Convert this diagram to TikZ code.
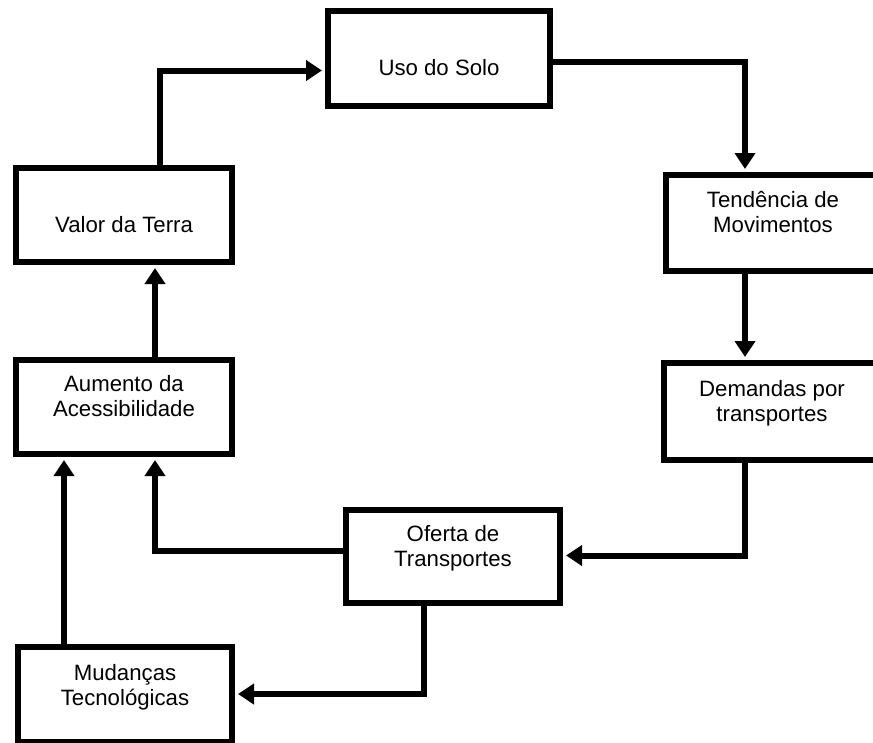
\documentclass[tikz,border=0pt]{standalone}
\usepackage{fontspec}
\setmainfont{Liberation Sans}
\usetikzlibrary{arrows.meta}
\begin{document}
\begin{tikzpicture}[x=1pt,y=-1pt,
  box/.style={draw, line width=6pt, rectangle, inner sep=0pt},
  lbl/.style={font=\fontsize{22.2}{25}\selectfont, align=center, anchor=base, inner sep=0pt},
  arr/.style={line width=6pt, -{Triangle[length=16pt,width=20pt]}, shorten >=3pt}]
\useasboundingbox (0,0) rectangle (873,742);
\clip (0,0) rectangle (873,742);
\fill[white] (0,0) rectangle (873,742);
% boxes
\node[box, minimum width=216pt, minimum height=94pt] (valor) at (124,215) {};
\node[box, minimum width=222pt, minimum height=95pt] (uso) at (439,58.5) {};
\node[box, minimum width=214pt, minimum height=96pt] (tend) at (773,223) {};
\node[box, minimum width=216pt, minimum height=97pt] (dem) at (772,411.5) {};
\node[box, minimum width=214pt, minimum height=93pt] (oferta) at (453,556.5) {};
\node[box, minimum width=216pt, minimum height=94pt] (aum) at (124,407) {};
\node[box, minimum width=214pt, minimum height=95pt] (mud) at (125,694.5) {};
% texts (base = baseline of the last line)
\node[lbl] (uso-t) at (439,75) {Uso do Solo};
\node[lbl] (valor-t) at (124,232) {Valor da Terra};
\node[lbl] (tend-t) at (773,232) {Tendência de\\Movimentos};
\node[lbl] (dem-t) at (772,421) {Demandas por\\transportes};
\node[lbl] (oferta-t) at (453,566) {Oferta de\\Transportes};
\node[lbl] (aum-t) at (124,416) {Aumento da\\Acessibilidade};
\node[lbl] (mud-t) at (125,705) {Mudanças\\Tecnológicas};
% connector bends
\coordinate (c1) at (160,70.5);
\coordinate (c2) at (745,62);
\coordinate (c3) at (745,555.5);
\coordinate (c4) at (155,550.5);
\coordinate (c5) at (424,694);
\coordinate (c6) at (64,0);
% connectors
\draw[arr] (valor.north -| c1) |- (uso.west |- c1);
\draw[arr] (uso.east |- c2) -| (tend.north -| c2);
\draw[arr] (tend.south -| c2) -- (dem.north -| c2);
\draw[arr] (dem.south -| c3) |- (oferta.east |- c3);
\draw[arr] (oferta.west |- c4) -| (aum.south -| c4);
\draw[arr] (aum.north -| c4) -- (valor.south -| c4);
\draw[arr] (oferta.south -| c5) |- (mud.east |- c5);
\draw[arr] (mud.north -| c6) -- (aum.south -| c6);
\end{tikzpicture}
\end{document}
